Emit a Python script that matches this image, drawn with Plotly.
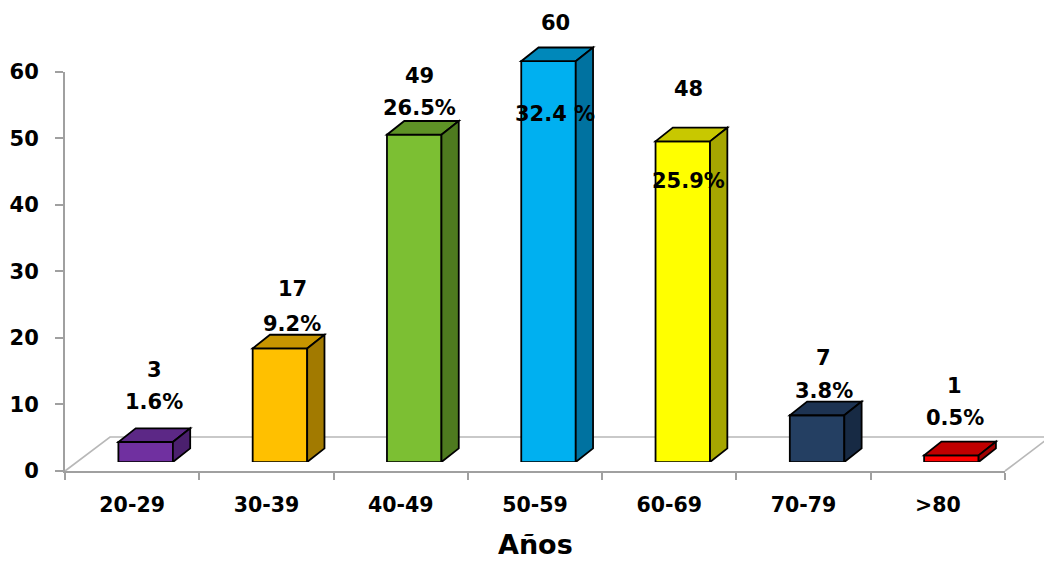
import plotly.graph_objects as go

# ---- data -------------------------------------------------------------
age_groups = ["20-29", "30-39", "40-49", "50-59", "60-69", "70-79", ">80"]
patients = [3, 17, 49, 60, 48, 7, 1]
pct_labels = ["1.6%", "9.2%", "26.5%", "32.4 %", "25.9%", "3.8%", "0.5%"]
y_ticks = [0, 10, 20, 30, 40, 50, 60]

# ---- styling ----------------------------------------------------------
front_colors = ["#7030A0", "#FFC000", "#7CBF33", "#00B0F0", "#FFFF00", "#243F62", "#FF0000"]
top_colors = ["#5C2886", "#C79500", "#5E9226", "#0088BA", "#C8C800", "#1D3352", "#C00000"]
side_colors = ["#4B206E", "#A27A00", "#4E7A1F", "#0072A0", "#A6A600", "#172A44", "#A00000"]

# label placement (pixels) relative to the back edge of each bar's top face
count_label_dy = [-58, -46, -44.5, -24, -39, -44, -56]
pct_label_dy = [-26, -11, -12.5, 67, 53, -11, -24]
label_dx = [22, 26, 19, 20, 19, 20, 17]

FONT = "DejaVu Sans"
W, H = 1044, 561
ML, MR, MT, MB = 65, 0, 10, 90
PW, PH = W - ML - MR, H - MT - MB

AXIS_RIGHT_PX = 1005 - ML          # end of the category axis inside the plot area
AXIS_TOP_PX = 471 - 70             # height of the value axis (0..60)
BAR_SHIFT_X, BAR_SHIFT_Y = 13.5, 9  # bars sit a little behind the front edge of the floor
BAR_W_PX = 54.5
DEPTH_X, DEPTH_Y = 17.3, 13.7      # bar depth
FLOOR_DX, FLOOR_DY = 45, 34        # floor depth
PX_PER_UNIT = 6.71                 # bar scale

bar_range_top = (PH - BAR_SHIFT_Y) / PX_PER_UNIT
depth_units = DEPTH_Y / PX_PER_UNIT
bar_width = BAR_W_PX / (AXIS_RIGHT_PX / len(age_groups))

fig = go.Figure()

# invisible trace that registers the categories on the front axes
fig.add_trace(go.Scatter(x=age_groups, y=patients, mode="markers",
                         marker=dict(opacity=0), hoverinfo="skip",
                         showlegend=False, xaxis="x", yaxis="y"))

# front faces of the bars
fig.add_trace(go.Bar(x=age_groups, y=patients, width=bar_width,
                     marker=dict(color=front_colors, line=dict(color="black", width=1.8)),
                     hoverinfo="skip", showlegend=False, xaxis="x2", yaxis="y2"))

shapes = []
# floor: left edge, back edge, right edge
floor_style = dict(type="path", xref="paper", yref="paper", xsizemode="pixel",
                   ysizemode="pixel", xanchor=0, yanchor=0, layer="below",
                   line=dict(color="#B8B8B8", width=1.6))
shapes.append(dict(path=f"M 0,0 L {FLOOR_DX},{FLOOR_DY} L {PW + 60},{FLOOR_DY}", **floor_style))
shapes.append(dict(path=f"M {AXIS_RIGHT_PX},0 L {AXIS_RIGHT_PX + FLOOR_DX},{FLOOR_DY}", **floor_style))

half = BAR_W_PX / 2
for cat, v, tc, sc in zip(age_groups, patients, top_colors, side_colors):
    # top face
    shapes.append(dict(type="path", xref="x2", yref="y2", xsizemode="pixel", ysizemode="pixel",
                       xanchor=cat, yanchor=v, layer="above",
                       path=(f"M {-half},0 L {half},0 L {half + DEPTH_X},{DEPTH_Y} "
                             f"L {-half + DEPTH_X},{DEPTH_Y} Z"),
                       fillcolor=tc, line=dict(color="black", width=1.8)))
    # side face
    shapes.append(dict(type="path", xref="x2", yref="y2", xsizemode="pixel",
                       xanchor=cat, layer="above",
                       path=(f"M {half},0 L {half},{v} L {half + DEPTH_X},{v + depth_units} "
                             f"L {half + DEPTH_X},{depth_units} Z"),
                       fillcolor=sc, line=dict(color="black", width=1.8)))

annotations = []
label_font = dict(family=FONT, size=21, color="black", weight="bold")
for cat, v, p, cdy, pdy, dx in zip(age_groups, patients, pct_labels,
                                   count_label_dy, pct_label_dy, label_dx):
    for txt, dy in ((str(v), cdy), (p, pdy)):
        annotations.append(dict(x=cat, y=v, xref="x2", yref="y2", text=txt,
                                showarrow=False, xanchor="center", yanchor="middle",
                                xshift=dx - BAR_SHIFT_X, yshift=DEPTH_Y - dy,
                                font=label_font))

annotations.append(dict(x=(535 - ML) / PW, y=(471 - 545) / PH, xref="paper", yref="paper",
                        text="Años", showarrow=False, xanchor="center", yanchor="middle",
                        font=dict(family=FONT, size=27, color="black", weight="bold")))

axis_line = "#A0A0A0"
fig.update_layout(
    width=W, height=H,
    margin=dict(l=ML, r=MR, t=MT, b=MB),
    paper_bgcolor="white", plot_bgcolor="rgba(0,0,0,0)",
    xaxis=dict(domain=[0, AXIS_RIGHT_PX / PW], type="category", range=[-0.5, 6.5],
               categoryarray=age_groups, showline=True, linecolor=axis_line, linewidth=2,
               ticks="outside", tickson="boundaries", ticklen=7, tickwidth=2,
               tickcolor=axis_line, showgrid=False, zeroline=False,
               ticklabelstandoff=14,
               tickfont=dict(family=FONT, size=20.5, color="black", weight="bold")),
    yaxis=dict(domain=[0, AXIS_TOP_PX / PH], range=[0, 60], tickvals=y_ticks,
               showline=True, linecolor=axis_line, linewidth=2, ticks="outside",
               ticklen=8, tickwidth=2, tickcolor=axis_line, showgrid=False,
               zeroline=False, ticklabelstandoff=12,
               tickfont=dict(family=FONT, size=21, color="black", weight="bold")),
    xaxis2=dict(domain=[BAR_SHIFT_X / PW, (AXIS_RIGHT_PX + BAR_SHIFT_X) / PW],
                type="category", range=[-0.5, 6.5], categoryarray=age_groups,
                anchor="y2", visible=False),
    yaxis2=dict(domain=[BAR_SHIFT_Y / PH, 1], range=[0, bar_range_top],
                anchor="x2", visible=False),
    shapes=shapes,
    annotations=annotations,
    showlegend=False,
)

fig.write_html("out.html")
